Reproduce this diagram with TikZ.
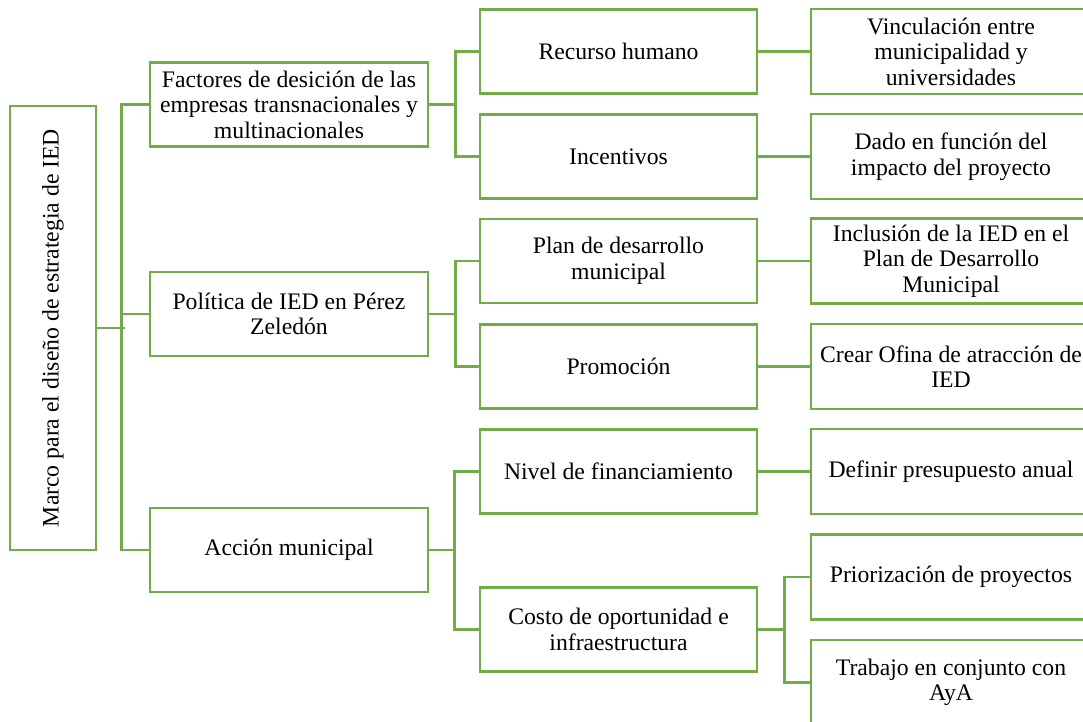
\documentclass[tikz,border=0pt]{standalone}
\usepackage{fontspec}
\setmainfont{Liberation Serif}
\definecolor{lgreen}{RGB}{112,173,71}
\begin{document}
\begin{tikzpicture}[x=1pt,y=-1pt,
  box/.style={draw=lgreen,line width=2.8pt,fill=white,align=center,inner sep=0pt,
    font=\fontsize{23.7}{25.5}\selectfont,text=black},
  lone/.style={box,minimum width=278,minimum height=84},
  ltwo/.style={box,minimum width=277,minimum height=84},
  lthree/.style={box,minimum width=280,minimum height=85},
  conn/.style={draw=lgreen,line width=2.8pt}]
\useasboundingbox (0,0) rectangle (1083,721);
\clip (0,0) rectangle (1083,721);
% root
\node[box,minimum width=86,minimum height=444] (root) at (53,328)
  {\rotatebox{90}{Marco para el diseño de estrategia de IED}};
% level 1
\node[lone] (F) at (289,104.5) {Factores de desición de las\\empresas transnacionales y\\multinacionales};
\node[lone] (P) at (289,314) {Política de IED en Pérez\\Zeledón};
\node[lone] (A) at (289,550) {Acción municipal};
% level 2
\node[ltwo] (R) at (618.5,51.5) {Recurso humano};
\node[ltwo] (I) at (618.5,156.5) {Incentivos};
\node[ltwo] (PD) at (618.5,261) {Plan de desarrollo\\municipal};
\node[ltwo] (Pr) at (618.5,366.5) {Promoción};
\node[ltwo] (N) at (618.5,471.5) {Nivel de financiamiento};
\node[ltwo] (C) at (618.5,629.5) {Costo de oportunidad e\\infraestructura};
% level 3
\node[lthree] (V) at (951,51.5) {Vinculación entre\\municipalidad y\\universidades};
\node[lthree] (D) at (951,156.5) {Dado en función del\\impacto del proyecto};
\node[lthree] (In) at (951,261) {Inclusión de la IED en el\\Plan de Desarrollo\\Municipal};
\node[lthree] (Cr) at (951,366.5) {Crear Ofina de atracción de\\IED};
\node[lthree] (Df) at (951,471.5) {Definir presupuesto anual};
\node[lthree] (Pz) at (951,577) {Priorización de proyectos};
\node[lthree] (T) at (951,682.5) {Trabajo en conjunto con\\AyA};
% connectors
\draw[conn] (root.east) -- ++(28,0);
\draw[conn] (F.west) -- ++(-27,0) |- (A.west);
\draw[conn] (P.west) -- ++(-27,0);
\draw[conn] (F.east) -- ++(26,0) coordinate (jf);
\draw[conn] (R.west) -| (jf) |- (I.west);
\draw[conn] (P.east) -- ++(26,0) coordinate (jp);
\draw[conn] (PD.west) -| (jp) |- (Pr.west);
\draw[conn] (A.east) -- ++(25,0) coordinate (ja);
\draw[conn] (N.west) -| (ja) |- (C.west);
\draw[conn] (R.east) -- (V.west);
\draw[conn] (I.east) -- (D.west);
\draw[conn] (PD.east) -- (In.west);
\draw[conn] (Pr.east) -- (Cr.west);
\draw[conn] (N.east) -- (Df.west);
\draw[conn] (C.east) -- ++(26,0) coordinate (jc);
\draw[conn] (Pz.west) -| (jc) |- (T.west);
\end{tikzpicture}
\end{document}
